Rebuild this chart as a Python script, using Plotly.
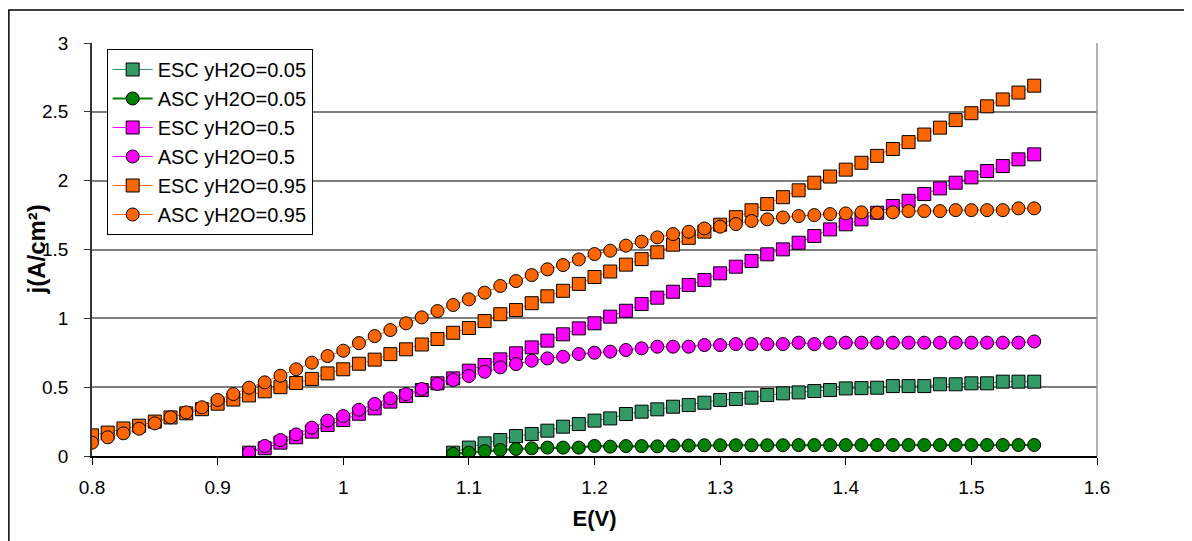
import plotly.graph_objects as go

# Potential grid (V)
E_all = [0.8, 0.8125, 0.825, 0.8375, 0.85, 0.8625, 0.875, 0.8875, 0.9, 0.9125,
         0.925, 0.9375, 0.95, 0.9625, 0.975, 0.9875, 1.0, 1.0125, 1.025, 1.0375,
         1.05, 1.0625, 1.075, 1.0875, 1.1, 1.1125, 1.125, 1.1375, 1.15, 1.1625,
         1.175, 1.1875, 1.2, 1.2125, 1.225, 1.2375, 1.25, 1.2625, 1.275, 1.2875,
         1.3, 1.3125, 1.325, 1.3375, 1.35, 1.3625, 1.375, 1.3875, 1.4, 1.4125,
         1.425, 1.4375, 1.45, 1.4625, 1.475, 1.4875, 1.5, 1.5125, 1.525, 1.5375, 1.55]
E_095 = E_all
E_05 = E_all[10:]
E_005 = E_all[23:]

esc_095 = [0.15, 0.17, 0.20, 0.22, 0.25, 0.28, 0.31, 0.34, 0.38, 0.41, 0.44, 0.47, 0.50, 0.53, 0.56, 0.60, 0.63,
           0.67, 0.70, 0.74, 0.775, 0.81, 0.85, 0.895, 0.93, 0.98, 1.03, 1.06, 1.11, 1.16, 1.20, 1.25, 1.30,
           1.34, 1.39, 1.43, 1.48, 1.535, 1.585, 1.63, 1.68, 1.735, 1.785, 1.83, 1.88, 1.93, 1.985, 2.03, 2.08,
           2.13, 2.18, 2.23, 2.28, 2.335, 2.385, 2.44, 2.49, 2.54, 2.59, 2.64, 2.69]
asc_095 = [0.097, 0.136, 0.165, 0.198, 0.237, 0.281, 0.317, 0.354, 0.407, 0.450, 0.496, 0.535, 0.583, 0.630, 0.678, 0.726, 0.765,
           0.820, 0.871, 0.915, 0.964, 1.007, 1.053, 1.097, 1.138, 1.186, 1.235, 1.271, 1.314, 1.356, 1.387, 1.428, 1.467,
           1.491, 1.528, 1.557, 1.588, 1.612, 1.629, 1.653, 1.666, 1.685, 1.707, 1.719, 1.733, 1.743, 1.750, 1.757, 1.762,
           1.770, 1.767, 1.770, 1.779, 1.779, 1.779, 1.786, 1.786, 1.786, 1.786, 1.799, 1.799]
esc_05 = [0.024, 0.056, 0.097, 0.136, 0.177, 0.225, 0.261,
          0.307, 0.346, 0.395, 0.436, 0.479, 0.528, 0.564, 0.620, 0.661, 0.702, 0.746, 0.789, 0.838, 0.884, 0.927, 0.964,
          1.012, 1.055, 1.104, 1.150, 1.193, 1.242, 1.278, 1.327, 1.375, 1.416, 1.465, 1.501, 1.549, 1.598, 1.646, 1.683,
          1.719, 1.767, 1.816, 1.854, 1.903, 1.944, 1.985, 2.024, 2.070, 2.106, 2.155, 2.191]
asc_05 = [0.024, 0.073, 0.116, 0.157, 0.206, 0.257, 0.290,
          0.336, 0.378, 0.419, 0.450, 0.487, 0.523, 0.552, 0.581, 0.612, 0.644, 0.668, 0.692, 0.709, 0.721, 0.741, 0.750,
          0.758, 0.770, 0.782, 0.794, 0.794, 0.794, 0.806, 0.806, 0.813, 0.813, 0.813, 0.813, 0.823, 0.813, 0.823, 0.823,
          0.823, 0.823, 0.823, 0.823, 0.823, 0.823, 0.823, 0.823, 0.823, 0.823, 0.823, 0.832]
esc_005 = [0.024, 0.061, 0.092, 0.116, 0.145, 0.160, 0.184, 0.213, 0.232, 0.257,
           0.273, 0.305, 0.322, 0.339, 0.358, 0.370, 0.387, 0.407, 0.414, 0.424, 0.443, 0.455, 0.462, 0.472, 0.479, 0.491,
           0.493, 0.496, 0.508, 0.508, 0.508, 0.521, 0.521, 0.528, 0.528, 0.540, 0.540, 0.540]
asc_005 = [0.015, 0.024, 0.036, 0.044, 0.051, 0.056, 0.061, 0.061, 0.061, 0.073,
           0.068, 0.072, 0.072, 0.070, 0.076, 0.076, 0.078, 0.078, 0.078, 0.078, 0.078, 0.078, 0.079, 0.079, 0.079, 0.079,
           0.080, 0.080, 0.080, 0.080, 0.080, 0.080, 0.080, 0.080, 0.080, 0.080, 0.080, 0.080]

series = [
    ("ESC yH2O=0.05", E_005, esc_005, "#339966", "#339966", "square", 1),
    ("ASC yH2O=0.05", E_005, asc_005, "#008000", "#008000", "circle", 2.2),
    ("ESC yH2O=0.5", E_05, esc_05, "#FF00FF", "#FF00FF", "square", 1),
    ("ASC yH2O=0.5", E_05, asc_05, "#FF00FF", "#FF00FF", "circle", 1),
    ("ESC yH2O=0.95", E_095, esc_095, "#FF6600", "#FF6600", "square", 1),
    ("ASC yH2O=0.95", E_095, asc_095, "#FF6600", "#FF6600", "circle", 1),
]

FONT = "Arial, Liberation Sans, sans-serif"
fig = go.Figure()
for i, (name, xs, ys, fill, lcol, sym, lw) in enumerate(series):
    fig.add_trace(go.Scatter(
        x=xs, y=ys, name=name, mode="lines+markers", legendgroup=f"g{i}",
        line=dict(color=lcol, width=lw),
        marker=dict(symbol=sym, size=13, color=fill, line=dict(color="black", width=1)),
    ))

fig.update_layout(
    width=1192, height=541,
    paper_bgcolor="white", plot_bgcolor="white",
    margin=dict(l=84, r=103, t=35, b=93, autoexpand=False),
    font=dict(family=FONT, size=19, color="black"),
    showlegend=True,
    legend=dict(x=0.0146, y=0.9855, xanchor="left", yanchor="top",
                bgcolor="white", bordercolor="black", borderwidth=1,
                font=dict(family=FONT, size=20, color="black"),
                itemwidth=40, tracegroupgap=2, traceorder="normal"),
    xaxis=dict(range=[0.8, 1.6], dtick=0.1, tick0=0.8, showgrid=False, zeroline=False,
               showline=True, linecolor="black", linewidth=1.5,
               ticks="outside", ticklen=7, tickcolor="black", tickwidth=1,
               ticklabelstandoff=6,
               title=dict(text="<b>E(V)</b>", font=dict(family=FONT, size=22), standoff=14)),
    yaxis=dict(range=[0, 3], dtick=0.5, tick0=0, showgrid=True, gridcolor="#808080", gridwidth=1.5,
               zeroline=False, showline=True, linecolor="#333333", linewidth=1.5,
               ticks="outside", ticklen=6, tickcolor="#333333", tickwidth=1,
               ticklabelstandoff=12),
    annotations=[
        dict(text="<b>j(A/cm²)</b>", xref="paper", yref="paper", x=-0.0557, y=0.5,
             xanchor="center", yanchor="middle", textangle=-90, showarrow=False,
             font=dict(family=FONT, size=24, color="black")),
    ],
    shapes=[
        dict(type="line", xref="paper", yref="paper", x0=1, x1=1, y0=0, y1=1,
             line=dict(color="#999999", width=1.5)),
        dict(type="rect", xref="paper", yref="paper", x0=-0.0827, x1=1.3, y0=-0.5, y1=1.0799,
             line=dict(color="black", width=1.5), fillcolor="rgba(0,0,0,0)", layer="below"),
    ],
)

fig.write_html("out.html")
